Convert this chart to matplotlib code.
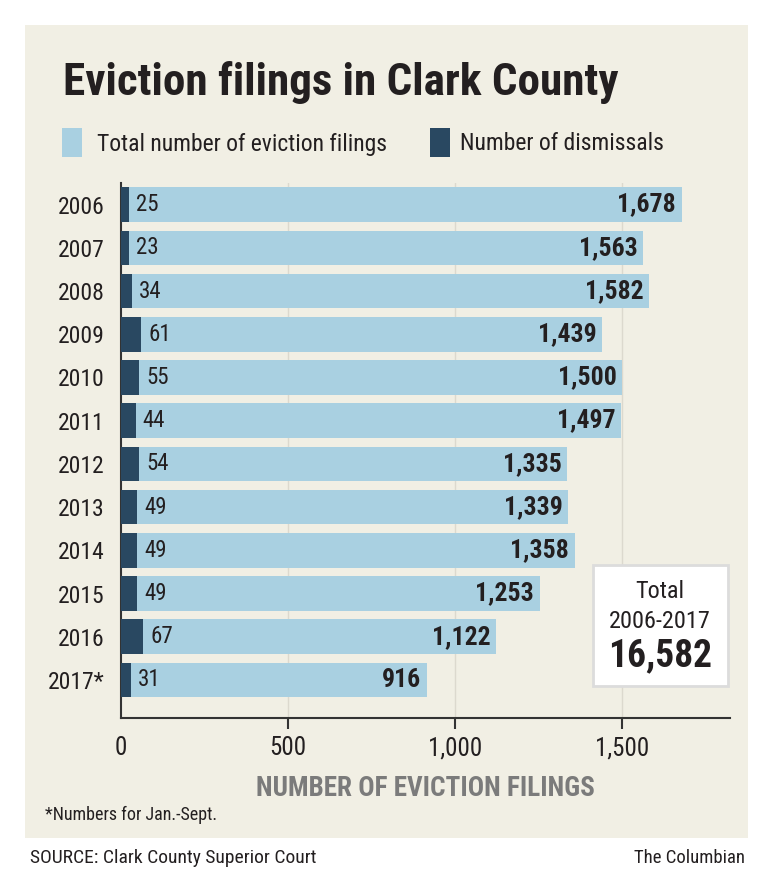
import matplotlib
matplotlib.use("Agg")
import matplotlib.pyplot as plt
import matplotlib.font_manager as fm
from matplotlib.patches import Rectangle

# 細めのフォントを優先して使う
names = {f.name for f in fm.fontManager.ttflist}
prefs = ["Roboto Condensed", "Liberation Sans Narrow", "Open Sans Condensed",
         "Noto Sans Condensed", "DejaVu Sans Condensed", "Roboto", "Lato"]
FONT = next((n for n in prefs if n in names), "DejaVu Sans")
plt.rcParams["font.family"] = [FONT, "DejaVu Sans"]

# データ
YEARS = ["2006", "2007", "2008", "2009", "2010", "2011",
         "2012", "2013", "2014", "2015", "2016", "2017*"]
TOTALS = [1678, 1563, 1582, 1439, 1500, 1497,
          1335, 1339, 1358, 1253, 1122, 916]
DISMISSALS = [25, 23, 34, 61, 55, 44, 54, 49, 49, 49, 67, 31]
X_TICKS = [0, 500, 1000, 1500]
X_TICK_LABELS = ["0", "500", "1,000", "1,500"]
GRAND_TOTAL = "16,582"

LIGHT = "#a9d0e1"
DARK = "#294861"
BEIGE = "#f1efe4"
TEXT = "#231f20"

W, H = 768, 882
fig = plt.figure(figsize=(W / 100, H / 100), dpi=100)
fig.patch.set_facecolor("white")


def fx(px):
    return px / W


def fy(py):
    return 1 - py / H


# 背景パネル
fig.patches.append(Rectangle((fx(25), fy(838)), fx(748) - fx(25), fy(25) - fy(838),
                             transform=fig.transFigure, facecolor=BEIGE,
                             edgecolor="none", zorder=-10))

# タイトル
fig.text(fx(63), fy(82), "Eviction filings in Clark County", fontsize=32.5,
         fontweight="bold", color=TEXT, va="center", ha="left")

# 凡例
fig.patches.append(Rectangle((fx(62), fy(157)), fx(20), fy(128) - fy(157),
                             transform=fig.transFigure, facecolor=LIGHT,
                             edgecolor="none"))
fig.text(fx(97), fy(144), "Total number of eviction filings", fontsize=17,
         color=TEXT, va="center", ha="left")
fig.patches.append(Rectangle((fx(430), fy(157)), fx(20), fy(128) - fy(157),
                             transform=fig.transFigure, facecolor=DARK,
                             edgecolor="none"))
fig.text(fx(460), fy(144), "Number of dismissals", fontsize=17,
         color=TEXT, va="center", ha="left")

# 軸
ax = fig.add_axes([fx(121), fy(718), fx(730) - fx(121), fy(183) - fy(718)])
ax.set_facecolor("none")
y = list(range(len(YEARS)))
ax.barh(y, TOTALS, height=0.8, color=LIGHT, zorder=2)
ax.barh(y, DISMISSALS, height=0.8, color=DARK, zorder=3)

for yi, t, d in zip(y, TOTALS, DISMISSALS):
    ax.annotate(f"{d}", xy=(d, yi), xytext=(5, 0), textcoords="offset points",
                fontsize=16.5, color=TEXT, va="center", ha="left", zorder=4)
    ax.annotate(f"{t:,}", xy=(t, yi), xytext=(-4, 0), textcoords="offset points",
                fontsize=18.5, fontweight="bold", color=TEXT, va="center",
                ha="right", zorder=4)

ax.set_xlim(0, 1823)
ax.set_ylim(11.88, -0.5)
ax.set_yticks(y)
ax.set_yticklabels(YEARS, fontsize=17, color=TEXT)
ax.tick_params(axis="y", length=0, pad=12)
ax.set_xticks(X_TICKS)
ax.set_xticklabels(X_TICK_LABELS, fontsize=18, color=TEXT)
ax.tick_params(axis="x", length=8, width=1.5, color="#333333", pad=5)
ax.xaxis.get_major_ticks()[0].tick1line.set_visible(False)
for xv in X_TICKS[1:]:
    ax.axvline(xv, color="#dcd9ce", linewidth=1, zorder=1)
for side in ["top", "right"]:
    ax.spines[side].set_visible(False)
for side in ["left", "bottom"]:
    ax.spines[side].set_linewidth(1.5)
    ax.spines[side].set_color("#333333")
ax.set_xlabel("NUMBER OF EVICTION FILINGS", fontsize=19.5, fontweight="bold",
              color="#7b7b7b", labelpad=11)

# 合計ボックス
fig.patches.append(Rectangle((fx(593), fy(686)), fx(728) - fx(593), fy(565) - fy(686),
                             transform=fig.transFigure, facecolor="white",
                             edgecolor="#dcdcdc", linewidth=2, zorder=5))
fig.text(fx(660), fy(591), "Total", fontsize=17.5, color=TEXT, ha="center",
         va="center", zorder=6)
fig.text(fx(660), fy(621), "2006-2017", fontsize=17.5, color=TEXT, ha="center",
         va="center", zorder=6)
fig.text(fx(660), fy(656), GRAND_TOTAL, fontsize=27, fontweight="bold",
         color=TEXT, ha="center", va="center", zorder=6)

# 注記
fig.text(fx(45), fy(815), "*Numbers for Jan.-Sept.", fontsize=13,
         color=TEXT, ha="left", va="center")
fig.text(fx(30), fy(858), "SOURCE: Clark County Superior Court", fontsize=14,
         color=TEXT, ha="left", va="center")
fig.text(fx(745), fy(858), "The Columbian", fontsize=13.5, color=TEXT,
         ha="right", va="center")

fig.savefig("out.png", dpi=100)
